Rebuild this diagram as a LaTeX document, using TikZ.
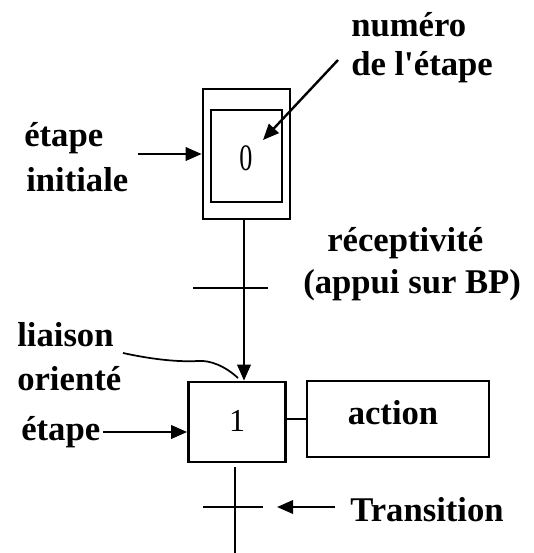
\documentclass[tikz,border=0pt]{standalone}
\usepackage{fontspec}
\setmainfont{Liberation Serif}
\usetikzlibrary{arrows.meta}
\tikzset{
  lbl/.style={font=\bfseries\fontsize{26}{30}\selectfont, align=left, inner sep=0pt, anchor=west},
  stepbox/.style={draw, line width=2pt, inner sep=0pt},
  num/.style={font=\fontsize{24}{26}\selectfont, inner sep=0pt},
  ln/.style={line width=1.8pt},
  arr/.style={line width=1.8pt, -{Triangle[length=12pt,width=10pt]}},
}
\begin{document}
\begin{tikzpicture}[x=0.75pt,y=-0.75pt]
\useasboundingbox (0,0) rectangle (533,553);
% initial step
\node[stepbox, minimum width=87*0.75pt, minimum height=130*0.75pt] (outer) at (246.5,154) {};
\node[stepbox, minimum width=71*0.75pt, minimum height=92*0.75pt] (inner) at (246.5,156) {};
\node[num, font=\fontsize{28}{30}\selectfont, xscale=0.7] (zero) at (246,158) {0};
% step 1
\node[stepbox, minimum width=97*0.75pt, minimum height=80*0.75pt] (s1) at (237,422) {};
\node[num] (one) at (237,421) {1};
% action
\node[stepbox, minimum width=182*0.75pt, minimum height=76*0.75pt] (act) at (398,419) {};
\node[lbl, anchor=center] (actt) at (393,413) {action};
% links
\draw[arr] (outer.south -| 244,0) -- (s1.north -| 244,0);
\draw[ln] (193,288) -- (268,288);
\draw[ln] (act.west -| s1.east) -- (act.west);
\coordinate (bot) at (235,553);
\draw[ln] (235,467) -- (bot);
\draw[ln] (203,507) -- (263,507);
% labels
\node[lbl] (num1) at (351,25) {numéro};
\node[lbl] (num2) at (351,67) {de l\textquotesingle étape};
\node[lbl] (ei1) at (24,138) {étape};
\node[lbl] (ei2) at (26,180) {initiale};
\node[lbl] (rec1) at (327,243) {réceptivité};
\node[lbl] (rec2) at (303,285) {(appui sur BP)};
\node[lbl] (li1) at (17,335) {liaison};
\node[lbl] (li2) at (17,379) {orienté};
\node[lbl] (et) at (21,432) {étape};
\node[lbl] (tr) at (350,510) {Transition};
% label arrows
\coordinate (a1s) at (338,60);
\draw[arr] (a1s) -- (263,140);
\coordinate (a2s) at (138,154);
\draw[arr] (a2s) -- (outer.west);
\draw[arr] ([xshift=2pt]et.east) -- (et.east -| s1.west);
\coordinate (a4s) at (335,507);
\draw[arr] (a4s) -- (277,507);
\coordinate (w1) at (123,353);
\coordinate (w2) at (238,378);
\draw[line width=1.3pt] (w1) .. controls (155,360) and (180,362) .. (198,361) .. controls (210,360) and (225,366) .. (w2);
\end{tikzpicture}
\end{document}
